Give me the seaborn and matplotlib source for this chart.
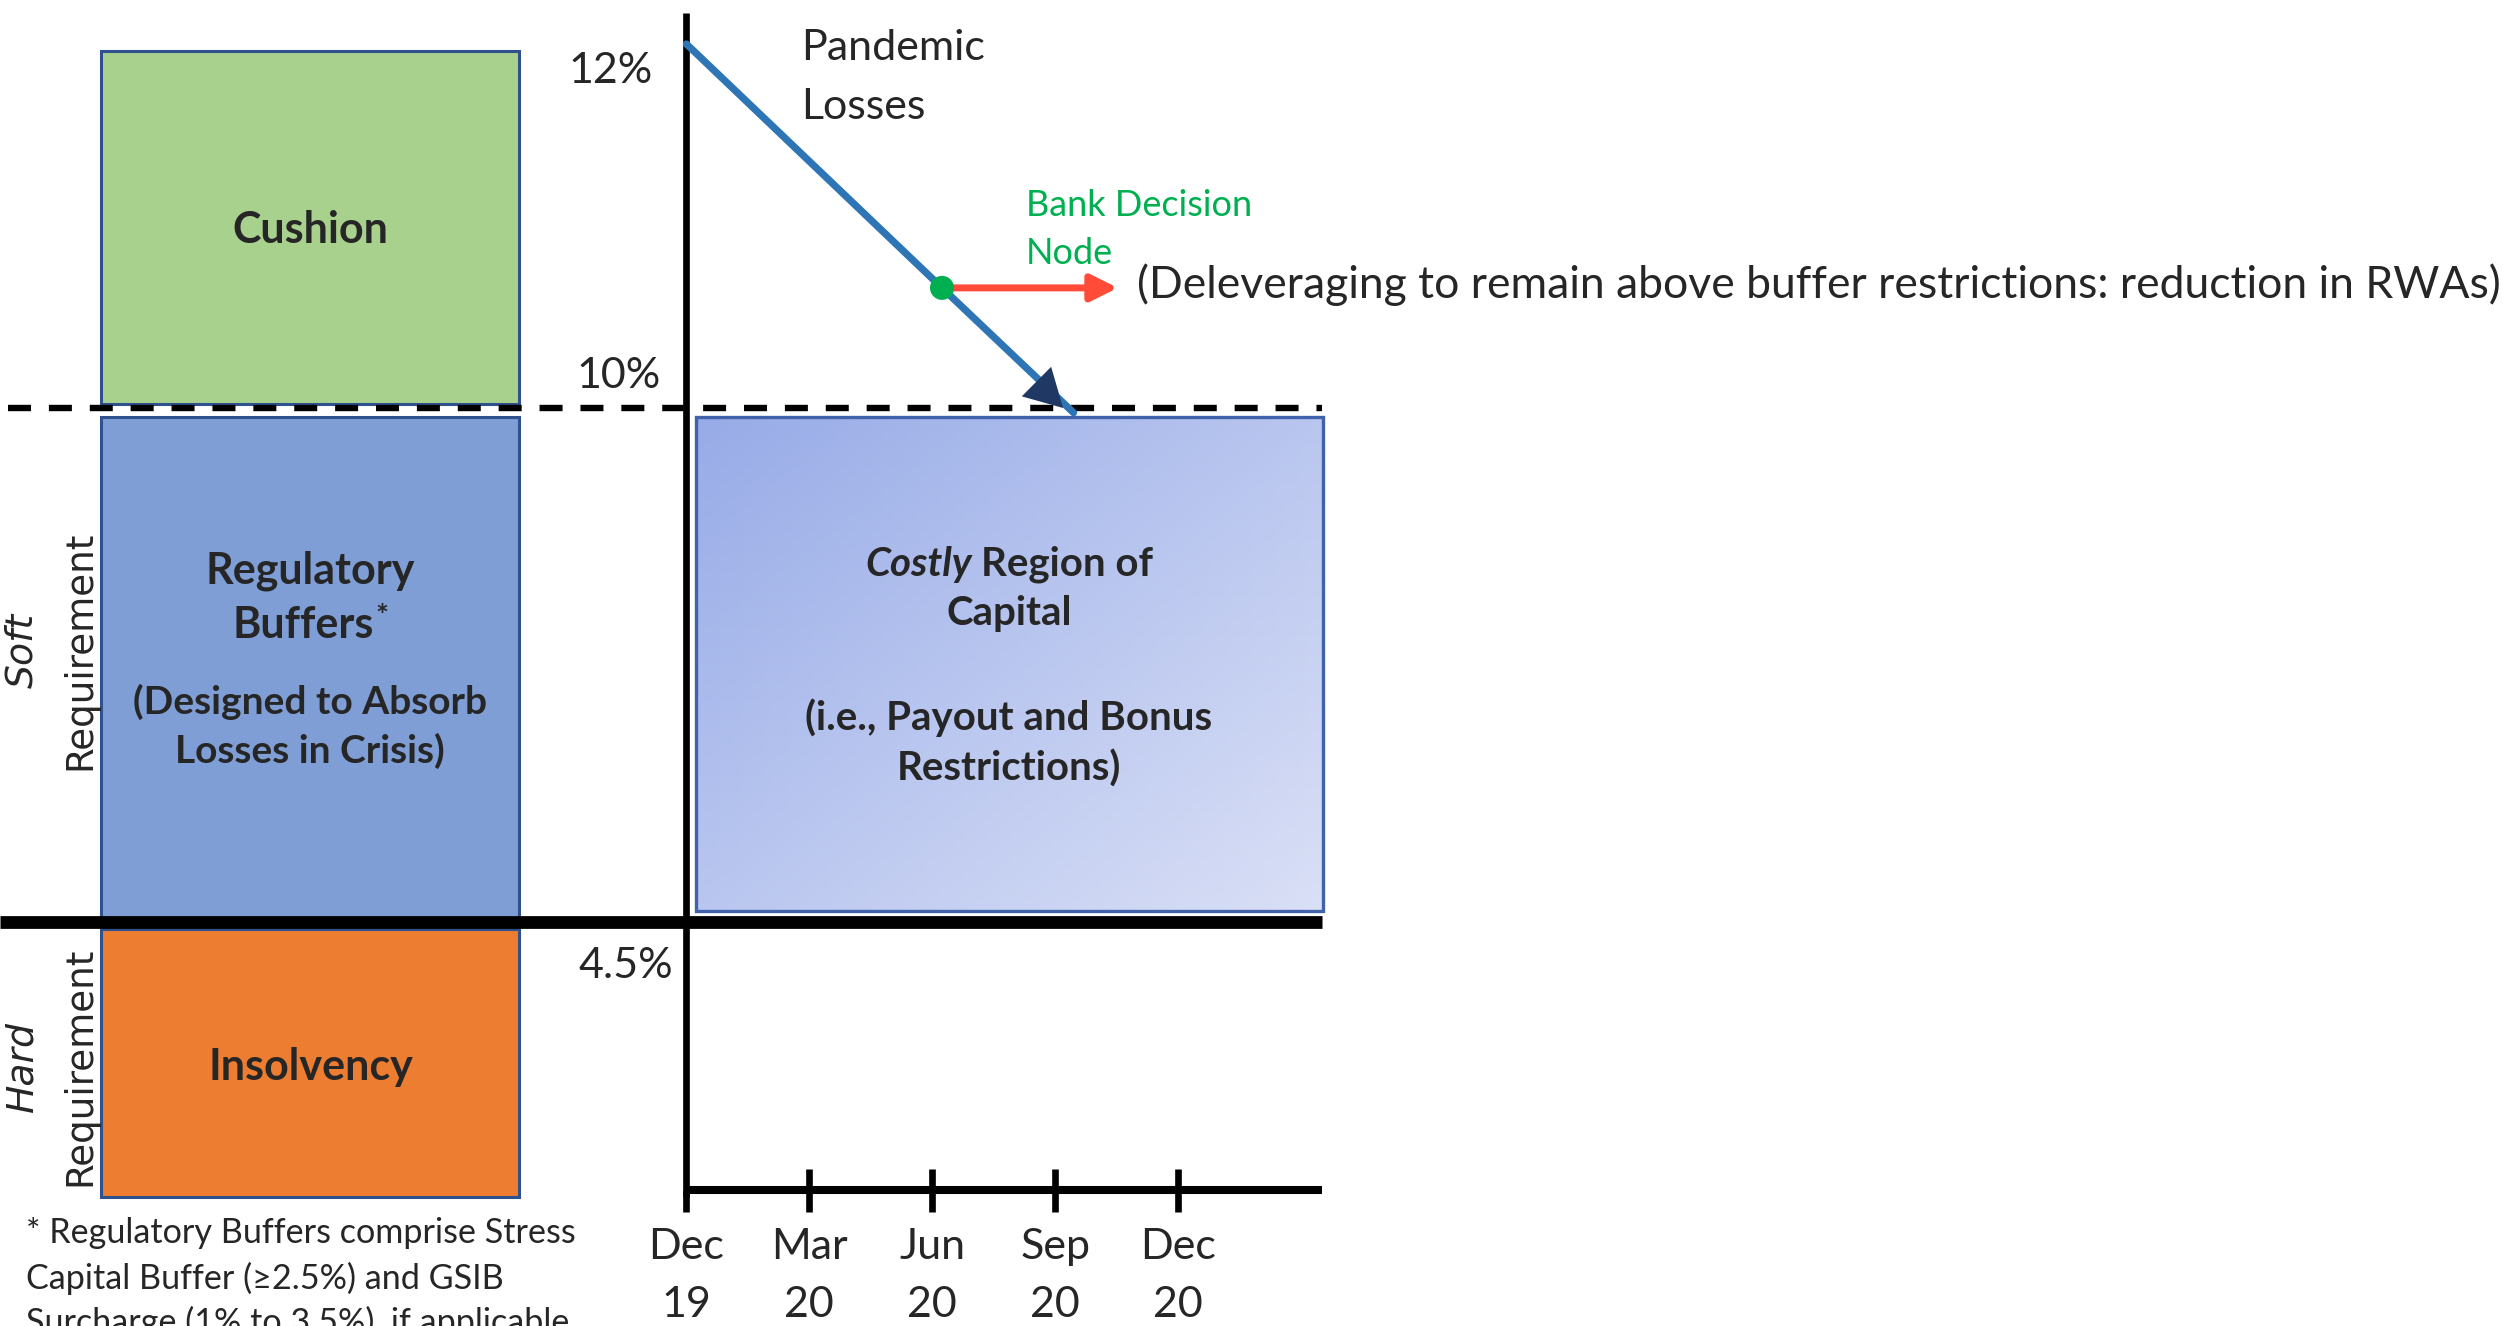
import numpy as np
import pandas as pd
import matplotlib
matplotlib.use("Agg")
import matplotlib.pyplot as plt
import matplotlib.transforms as mtransforms
from matplotlib.patches import Rectangle
from matplotlib.colors import LinearSegmentedColormap
import seaborn as sns

# ---------------------------------------------------------------- data
# capital-ratio thresholds (% of risk-weighted assets)
level_values = [12.0, 10.0, 4.5]
level_labels = ["12%", "10%", "4.5%"]

# quarterly time axis (quarters since Dec 2019)
quarter_pos = [0, 1, 2, 3, 4]
quarter_month = ["Dec", "Mar", "Jun", "Sep", "Dec"]
quarter_year = ["19", "20", "20", "20", "20"]

# pandemic-loss path of the capital ratio
path_quarter = [0.0, 2.08, 3.15]
path_ratio = [12.0, 10.66, 9.95]
arrow_tip = (3.065, 10.0)

# bank decision node and deleveraging response
node_quarter = 2.08
node_ratio = 10.66
delever_quarter = 3.51

# capital stack
band_names = ["Cushion", "Regulatory Buffers", "Insolvency"]
band_lo = [10.0, 4.5, 0.0]
band_hi = [12.0, 10.0, 4.5]
band_colors = ["#A9D18E", "#7F9ED6", "#ED7D31"]

# ---------------------------------------------------------------- layout
W, H, DPI = 2503, 1326, 200
X0, XSTEP = 686.4, 122.9                      # pixel x of Dec 19 and per-quarter step
ratio_knots = [-100.0, 0.0, 4.5, 10.0, 12.0, 100.0]
height_knots = [136 - 100 * 59.6, 136, 404, 918, 1282, 1282 + 88 * 182]
BLUE_EDGE = "#2F528F"
LINE_BLUE = "#2E75B6"
NAVY = "#203864"
GREEN = "#00B050"
RED = "#FF4B37"

sns.set_theme(style="white")
plt.rcParams["font.family"] = ["Lato", "DejaVu Sans"]

fig = plt.figure(figsize=(W / DPI, H / DPI), dpi=DPI)
ax = fig.add_axes([0, 0, 1, 1])
ax.set_axis_off()


def fwd(r):
    return np.interp(r, ratio_knots, height_knots)


def inv(h):
    return np.interp(h, height_knots, ratio_knots)


def shift(level, px):
    """Ratio value that sits `px` pixels above `level`."""
    return float(inv(fwd(level) + px))


def qx(px):
    return (px - X0) / XSTEP


ax.set_yscale("function", functions=(fwd, inv))
XMIN, XMAX = qx(0), qx(W)
YMIN, YMAX = float(inv(0)), float(inv(H))
panel_right = qx(1322)

# ---------------------------------------------------------------- capital stack boxes
col_left, col_right = qx(100.6), qx(519)
band_gaps = [(-7, 4), (-9, 4), (-7, -7)]      # (top, bottom) pixel insets
for name, lo, hi, col, (gt, gb) in zip(band_names, band_lo, band_hi, band_colors, band_gaps):
    y0 = shift(lo, gb)
    y1 = shift(hi, gt)
    ax.add_patch(Rectangle((col_left, y0), col_right - col_left, y1 - y0,
                           facecolor=col, edgecolor=BLUE_EDGE, lw=1.1, zorder=2))

# costly region of capital: diagonal gradient panel
cx0, cx1 = qx(696), qx(1323)
cy0, cy1 = shift(band_lo[1], 10.5), shift(band_hi[1], -9)
gx, gy = np.meshgrid([cx0, cx1], [cy0, cy1])
gval = np.array([[0.5, 1.0], [0.0, 0.5]])
grad = LinearSegmentedColormap.from_list("costly", ["#97ABE7", "#DAE0F6"])
ax.pcolormesh(gx, gy, gval, shading="gouraud", cmap=grad, zorder=2)
ax.add_patch(Rectangle((cx0, cy0), cx1 - cx0, cy1 - cy0, facecolor="none",
                       edgecolor="#3F62AA", lw=1.2, zorder=3))

# ---------------------------------------------------------------- threshold lines and axes
ax.plot([XMIN, panel_right], [level_values[2]] * 2, color="black", lw=4.6,
        solid_capstyle="butt", zorder=4)
ax.plot([qx(8), panel_right], [level_values[1]] * 2, color="black", lw=2.3,
        dashes=(3.6, 2.8), zorder=4)
ax.plot([0, 0], [shift(0, -7), float(inv(1313))], color="black", lw=2.4,
        solid_capstyle="butt", zorder=4)
ax.plot([0, panel_right], [0, 0], color="black", lw=2.9, solid_capstyle="butt", zorder=4)
for q in quarter_pos:
    top = 0 if q == 0 else shift(0, 21)
    ax.plot([q, q], [shift(0, -22), top], color="black", lw=2.4,
            solid_capstyle="butt", zorder=4)

# ---------------------------------------------------------------- pandemic path, node, deleveraging
path = pd.DataFrame({"quarter": path_quarter, "ratio": path_ratio})
sns.lineplot(data=path, x="quarter", y="ratio", sort=False, estimator=None,
             color=LINE_BLUE, lw=2.6, ax=ax, zorder=5)
ax.annotate("", xy=arrow_tip, xytext=(node_quarter, node_ratio),
            arrowprops=dict(arrowstyle="-|>,head_length=13.5,head_width=7.5",
                            mutation_scale=1, color=NAVY, lw=0,
                            shrinkA=0, shrinkB=0), zorder=6)
ax.annotate("", xy=(delever_quarter, node_ratio), xytext=(node_quarter, node_ratio),
            arrowprops=dict(arrowstyle="-|>,head_length=8,head_width=4",
                            mutation_scale=1, color=RED, lw=2.5,
                            shrinkA=0, shrinkB=0), zorder=6)
node = pd.DataFrame({"quarter": [node_quarter], "ratio": [node_ratio]})
sns.scatterplot(data=node, x="quarter", y="ratio", color=GREEN, s=75,
                edgecolor="none", ax=ax, zorder=7)

ax.set_xlim(XMIN, XMAX)
ax.set_ylim(YMIN, YMAX)

# ---------------------------------------------------------------- text
def fxy(x, y):
    return x / W, 1 - y / H


def ftext(x, y, s, **kw):
    kw.setdefault("va", "center")
    kw.setdefault("ha", "center")
    return fig.text(*fxy(x, y), s, **kw)


MAIN = 15.5
for lab, (x, y) in zip(level_labels, [(611, 71), (619, 376), (626, 966)]):
    ftext(x, y, lab, fontsize=MAIN)

ftext(801, 48, "Pandemic", ha="left", fontsize=MAIN)
ftext(801, 107, "Losses", ha="left", fontsize=MAIN)
ftext(1026, 205, "Bank Decision", ha="left", fontsize=13, color=GREEN)
ftext(1026, 253, "Node", ha="left", fontsize=13, color=GREEN)
ftext(1137, 285, "(Deleveraging to remain above buffer restrictions: reduction in RWAs)",
      ha="left", fontsize=16)

ftext(310, 230, band_names[0], fontsize=MAIN, fontweight="bold")
ftext(310, 571, "Regulatory", fontsize=MAIN, fontweight="bold")
buf = ftext(303, 625, "Buffers", fontsize=MAIN, fontweight="bold")
ftext(310, 702, "(Designed to Absorb", fontsize=14, fontweight="bold")
ftext(310, 751, "Losses in Crisis)", fontsize=14, fontweight="bold")
ftext(311, 1067, band_names[2], fontsize=MAIN, fontweight="bold")

fig.canvas.draw()
renderer = fig.canvas.get_renderer()
bb = buf.get_window_extent(renderer)
fig.text((bb.x1 + 2) / W, (bb.y1 + 2) / H, "*", fontsize=11, fontweight="bold",
         ha="left", va="top")

# "Costly Region of" with the first word in bold italic
p1 = ftext(0, 564, "Costly", ha="left", fontsize=14.5, fontweight="bold", style="italic")
p2 = ftext(0, 564, "Region of", ha="left", fontsize=14.5, fontweight="bold")
w1 = p1.get_window_extent(renderer).width
w2 = p2.get_window_extent(renderer).width
gap = 9
start = 1009 - (w1 + gap + w2) / 2
p1.set_x(start / W)
p2.set_x((start + w1 + gap) / W)
ftext(1009, 614, "Capital", fontsize=14.5, fontweight="bold")
ftext(1009, 718, "(i.e., Payout and Bonus", fontsize=14.5, fontweight="bold")
ftext(1009, 769, "Restrictions)", fontsize=14.5, fontweight="bold")

# requirement labels along the left edge
for word, yc in [("Soft", 650), ("Hard", 1066)]:
    ftext(22, yc, word, rotation=90, fontsize=13.6, style="italic", family="DejaVu Sans")
    ftext(80, yc, "Requirement", rotation=90, fontsize=13.4, family="DejaVu Sans")

# quarter tick labels
blend = mtransforms.blended_transform_factory(ax.transData, fig.transFigure)
for q, m, yr in zip(quarter_pos, quarter_month, quarter_year):
    ax.text(q, 1 - 1247 / H, m, transform=blend, ha="center", va="center", fontsize=MAIN)
    ax.text(q, 1 - 1305 / H, yr, transform=blend, ha="center", va="center", fontsize=MAIN)

# footnote
for y, line in zip([1233, 1278, 1322], ["* Regulatory Buffers comprise Stress",
                                       "Capital Buffer (\u22652.5%) and GSIB",
                                       "Surcharge (1% to 3.5%), if applicable"]):
    ftext(26, y, line, ha="left", fontsize=12.3)

fig.savefig("out.png", dpi=DPI)
